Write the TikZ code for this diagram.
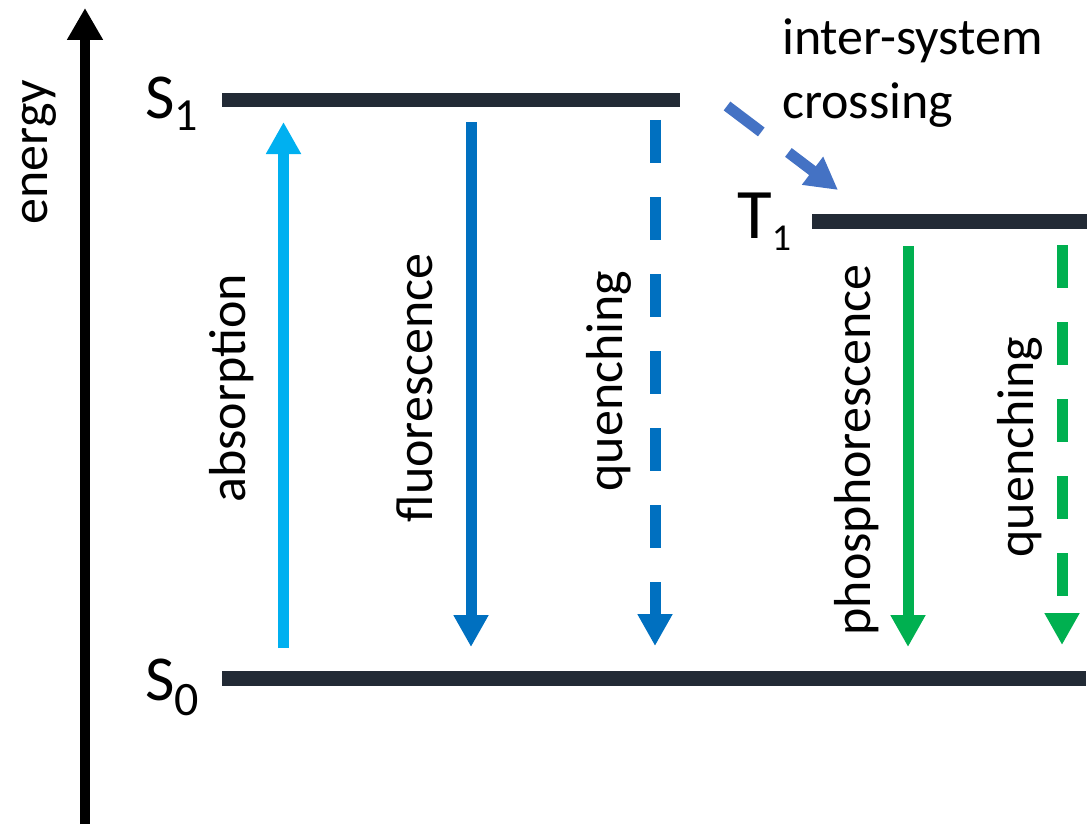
\documentclass[tikz,border=0pt]{standalone}
\usepackage{fontspec}
\setmainfont{Carlito}
\usetikzlibrary{arrows.meta}
\definecolor{levelc}{HTML}{222A35}
\definecolor{absc}{HTML}{00B0F0}
\definecolor{fluc}{HTML}{0070C0}
\definecolor{phoc}{HTML}{00B050}
\definecolor{iscc}{HTML}{4472C4}
\tikzset{
  levelbar/.style={line width=15pt, draw=levelc},
  trans/.style={line width=11pt, -{Triangle[length=32pt,width=33pt]}},
  dashtrans/.style={trans, dash pattern=on 43pt off 34pt},
  lbl/.style={inner sep=0pt, font=\fontsize{52}{62}\selectfont},
  vlbl/.style={lbl, rotate=90, anchor=base},
  statelbl/.style={inner sep=0pt, anchor=base west},
}
\begin{document}
\begin{tikzpicture}[x=1pt,y=-1pt]
\useasboundingbox (0,0) rectangle (1091,824);
% energy axis
\coordinate (axB) at (85,824);
\coordinate (axT) at (85,8);
\draw[line width=10pt, -{Triangle[length=32pt,width=34pt]}] (axB) -- (axT);
\node[vlbl] (energy) at (47,152) {energy};
% levels
\coordinate (s1L) at (222,100); \coordinate (s1R) at (680,100);
\coordinate (s0L) at (222,678); \coordinate (s0R) at (1086,678);
\coordinate (t1L) at (812,221); \coordinate (t1R) at (1087,221);
\draw[levelbar, line width=14pt] (s1L) -- (s1R);
\draw[levelbar] (s0L) -- (s0R);
\draw[levelbar] (t1L) -- (t1R);
% state labels
\node[statelbl, font=\fontsize{64}{70}\selectfont] (S1lab) at (145,118)
  {S\raisebox{-12pt}{\fontsize{46}{50}\selectfont 1}};
\node[statelbl, font=\fontsize{64}{70}\selectfont] (S0lab) at (145,700)
  {S\raisebox{-15pt}{\fontsize{48}{50}\selectfont 0}};
\node[statelbl, font=\fontsize{71}{78}\selectfont] (T1lab) at (737,238)
  {T\raisebox{-12pt}{\fontsize{38}{42}\selectfont 1}};
% arrow end points
\coordinate (absB) at (283.5,648); \coordinate (absT) at (283.5,122);
\coordinate (fluT) at (471,122);   \coordinate (fluB) at (471,647);
\coordinate (qsT) at (655,120);    \coordinate (qsB) at (655,646);
\coordinate (phT) at (908,246);    \coordinate (phB) at (908,647);
\coordinate (qtT) at (1062,245);   \coordinate (qtB) at (1062,645);
\coordinate (iscA) at (727,106);   \coordinate (iscB) at (838,190);
% transitions
\draw[trans, draw=absc] (absB) -- (absT);
\draw[trans, draw=fluc] (fluT) -- (fluB);
\draw[dashtrans, draw=fluc] (qsT) -- (qsB);
\draw[trans, draw=phoc] (phT) -- (phB);
\draw[dashtrans, draw=phoc] (qtT) -- (qtB);
\draw[dashtrans, draw=iscc] (iscA) -- (iscB);
% transition labels
\node[vlbl] (labs) at (245,388) {absorption};
\node[vlbl] (lflu) at (432,388) {fluorescence};
\node[vlbl] (lqs) at (622,381) {quenching};
\node[vlbl] (lph) at (870,450) {phosphorescence};
\node[vlbl] (lqt) at (1033,447) {quenching};
\node[lbl, anchor=base west] (isc1) at (782,55) {inter-system};
\node[lbl, anchor=base west] (isc2) at (782,118) {crossing};
\end{tikzpicture}
\end{document}
